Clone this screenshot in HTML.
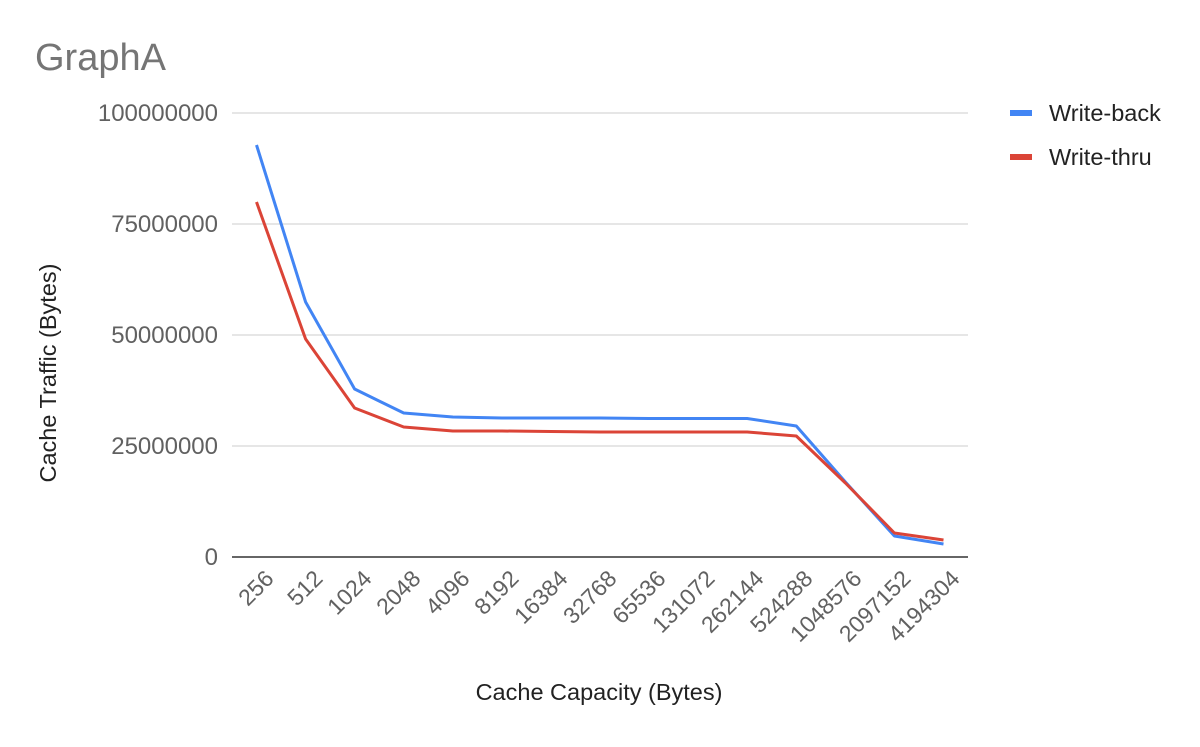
<!DOCTYPE html>
<html><head><style>
body{margin:0;background:#fff;}
svg text{font-family:"Liberation Sans",sans-serif;}
</style></head><body>
<svg width="1200" height="742" viewBox="0 0 1200 742" xmlns="http://www.w3.org/2000/svg">
<rect width="1200" height="742" fill="#fff"/>
<text x="35" y="70" font-size="38" fill="#757575">GraphA</text>
<g stroke="#cccccc" stroke-width="1">
<line x1="232" y1="113" x2="968" y2="113"/>
<line x1="232" y1="224" x2="968" y2="224"/>
<line x1="232" y1="335" x2="968" y2="335"/>
<line x1="232" y1="446" x2="968" y2="446"/>
</g>
<line x1="232" y1="557" x2="968" y2="557" stroke="#333" stroke-width="1.5"/>
<g font-size="24" fill="#616161" text-anchor="end">
<text x="218" y="121">100000000</text>
<text x="218" y="232">75000000</text>
<text x="218" y="343">50000000</text>
<text x="218" y="454">25000000</text>
<text x="218" y="565">0</text>
</g>
<text transform="translate(56,373) rotate(-90)" font-size="23.5" fill="#222" text-anchor="middle">Cache Traffic (Bytes)</text>
<text x="599" y="700" font-size="23.5" fill="#222" text-anchor="middle">Cache Capacity (Bytes)</text>
<g font-size="23" fill="#616161" text-anchor="end">
<text transform="translate(275,580) rotate(-45)">256</text>
<text transform="translate(324,580) rotate(-45)">512</text>
<text transform="translate(373,580) rotate(-45)">1024</text>
<text transform="translate(422,580) rotate(-45)">2048</text>
<text transform="translate(471,580) rotate(-45)">4096</text>
<text transform="translate(520,580) rotate(-45)">8192</text>
<text transform="translate(569,580) rotate(-45)">16384</text>
<text transform="translate(618,580) rotate(-45)">32768</text>
<text transform="translate(667,580) rotate(-45)">65536</text>
<text transform="translate(716,580) rotate(-45)">131072</text>
<text transform="translate(765,580) rotate(-45)">262144</text>
<text transform="translate(814,580) rotate(-45)">524288</text>
<text transform="translate(863,580) rotate(-45)">1048576</text>
<text transform="translate(912,580) rotate(-45)">2097152</text>
<text transform="translate(961,580) rotate(-45)">4194304</text>
</g>
<polyline fill="none" stroke="#4285f4" stroke-width="3" stroke-linejoin="round" points="256.5,145 305.6,302 354.6,389 403.7,413 452.8,417 501.9,418 550.9,418 600,418 649.1,418.5 698.1,418.5 747.2,418.5 796.3,426 845.4,482 894.4,536 943.5,544"/>
<polyline fill="none" stroke="#db4437" stroke-width="3" stroke-linejoin="round" points="256.5,202 305.6,339 354.6,408 403.7,427 452.8,431 501.9,431 550.9,431.5 600,432 649.1,432 698.1,432 747.2,432 796.3,436 845.4,483 894.4,533 943.5,540"/>
<line x1="1010" y1="113" x2="1032" y2="113" stroke="#4285f4" stroke-width="6"/>
<text x="1049" y="121" font-size="23.5" fill="#222">Write-back</text>
<line x1="1010" y1="157" x2="1032" y2="157" stroke="#db4437" stroke-width="6"/>
<text x="1049" y="165" font-size="23.5" fill="#222">Write-thru</text>
</svg>
</body></html>
